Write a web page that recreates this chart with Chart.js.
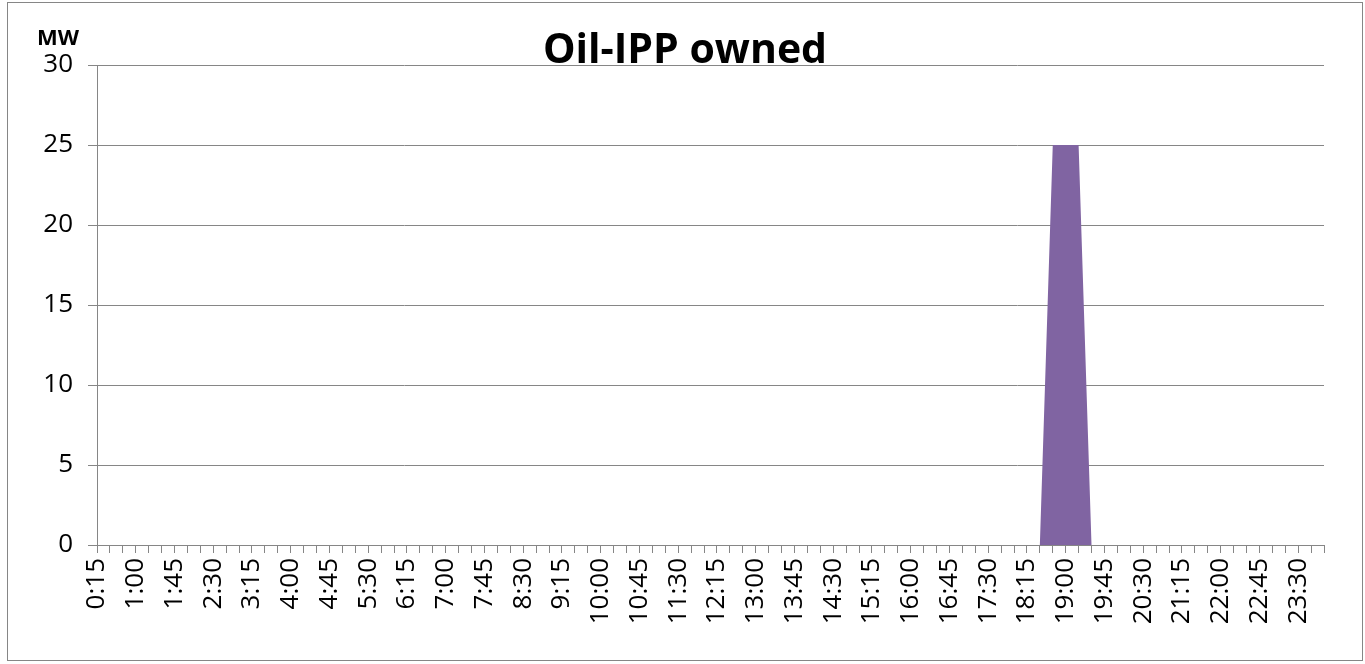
<!DOCTYPE html>
<html>
<head>
<meta charset="utf-8">
<script src="https://cdn.jsdelivr.net/npm/chart.js@4/dist/chart.umd.min.js"></script>
<style>
  html, body { margin: 0; padding: 0; background: #fff; }
  #wrap { position: relative; width: 1365px; height: 664px; }
  #frame { position: absolute; left: 7px; top: 2px; width: 1354px; height: 657px; border: 1px solid #868686; }
  #title { position: absolute; left: 0; width: 1370px; top: 27px; text-align: center;
           font: bold 41px "Open Sans", sans-serif; color: #000; line-height: 1; }
  #unit { position: absolute; left: 37px; top: 21px; font: bold 22px "Open Sans", sans-serif; color: #000; }
  canvas { position: absolute; left: 0; top: 0; }
</style>
</head>
<body>
<div id="wrap">
  <div id="frame"></div>
  <canvas id="chart" width="1365" height="664"></canvas>
  <div id="title">Oil-IPP owned</div>
  <div id="unit">MW</div>
</div>
<script>
const times = [
  '0:15','0:30','0:45','1:00','1:15','1:30','1:45','2:00','2:15','2:30','2:45','3:00',
  '3:15','3:30','3:45','4:00','4:15','4:30','4:45','5:00','5:15','5:30','5:45','6:00',
  '6:15','6:30','6:45','7:00','7:15','7:30','7:45','8:00','8:15','8:30','8:45','9:00',
  '9:15','9:30','9:45','10:00','10:15','10:30','10:45','11:00','11:15','11:30','11:45','12:00',
  '12:15','12:30','12:45','13:00','13:15','13:30','13:45','14:00','14:15','14:30','14:45','15:00',
  '15:15','15:30','15:45','16:00','16:15','16:30','16:45','17:00','17:15','17:30','17:45','18:00',
  '18:15','18:30','18:45','19:00','19:15','19:30','19:45','20:00','20:15','20:30','20:45','21:00',
  '21:15','21:30','21:45','22:00','22:15','22:30','22:45','23:00','23:15','23:30','23:45','0:00'
];

const oilIpp = [
  0,0,0,0,0,0,0,0,0,0,0,0,
  0,0,0,0,0,0,0,0,0,0,0,0,
  0,0,0,0,0,0,0,0,0,0,0,0,
  0,0,0,0,0,0,0,0,0,0,0,0,
  0,0,0,0,0,0,0,0,0,0,0,0,
  0,0,0,0,0,0,0,0,0,0,0,0,
  0,0,25,25,25,0,0,0,0,0,0,0,
  0,0,0,0,0,0,0,0,0,0,0,0
];

const yTicks = { min: 0, max: 30, step: 5 };
const labelEvery = 3;

const gray = '#868686';
const tickFont = { family: '"Open Sans", sans-serif', size: 26 };

new Chart(document.getElementById('chart'), {
  type: 'line',
  data: {
    labels: times,
    datasets: [{
      label: 'Oil-IPP owned',
      data: oilIpp,
      fill: 'origin',
      backgroundColor: '#8064A2',
      borderColor: '#8064A2',
      borderWidth: 0,
      pointRadius: 0,
      tension: 0
    }]
  },
  options: {
    responsive: false,
    animation: false,
    layout: { padding: { top: 65, right: 41, left: 0, bottom: 0 } },
    plugins: { legend: { display: false }, tooltip: { enabled: false } },
    scales: {
      x: {
        offset: false,
        afterFit: s => { s.height = 119; },
        grid: { drawOnChartArea: false, color: gray, tickLength: 8 },
        border: { color: gray, width: 1 },
        ticks: {
          autoSkip: false,
          maxRotation: 90,
          minRotation: 90,
          padding: 5,
          color: '#000',
          font: tickFont,
          callback: (v, i) => (i % labelEvery === 0 ? times[i] : '')
        }
      },
      y: {
        min: yTicks.min,
        max: yTicks.max,
        afterFit: s => { s.width = 97; },
        grid: { color: gray, tickLength: 9 },
        border: { color: gray, width: 1 },
        ticks: { stepSize: yTicks.step, padding: 15, color: '#000', font: tickFont }
      }
    }
  }
});
</script>
</body>
</html>
